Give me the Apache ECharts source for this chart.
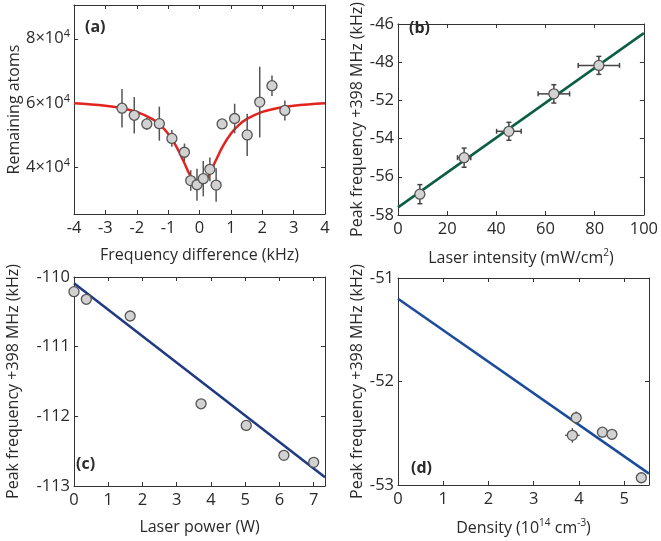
<!DOCTYPE html>
<html>
<head>
<meta charset="utf-8">
<script src="https://cdn.jsdelivr.net/npm/echarts@6/dist/echarts.min.js"></script>
<style>
html,body{margin:0;padding:0;background:#fff;}
#c{width:661px;height:541px;}
</style>
</head>
<body>
<div id="c"></div>
<script>
// ---------- Panel (a) ----------
const aX    = [-2.47,-2.08,-1.68,-1.28,-0.88,-0.48,-0.28,-0.08,0.12,0.33,0.53,0.72,1.12,1.52,1.92,2.31,2.72];
const aY    = [58400,56200,53500,53600,49000,44700,35900,34600,36500,39400,34500,53500,55200,50100,60300,65400,57700];
const aYErr = [6000,5700,1900,5300,2600,2700,3200,5000,5500,3700,5200,1300,4600,6600,11000,3200,3100];
const aFitX = [-4,-3,-2.5,-2,-1.5,-1.25,-1,-0.75,-0.5,-0.25,0,0.25,0.5,0.75,1,1.25,1.5,2,2.5,3,4];
const aFitY = [59950,59190,58470,57250,54990,53130,50470,46680,41740,36710,34400,36710,41740,46680,50470,53130,54990,57250,58470,59190,59950];
const aXTicks = [-4,-3,-2,-1,0,1,2,3,4];
const aYTicks = [40000,60000,80000];

// ---------- Panel (b) ----------
const bX    = [8.9,26.9,45.1,63.4,81.7];
const bY    = [-56.91,-55.0,-53.62,-51.66,-50.17];
const bXErr = [1.0,2.7,5.0,6.4,8.4];
const bYErr = [0.5,0.5,0.47,0.48,0.47];
const bFitX = [0,100];
const bFitY = [-57.6,-48.48];
const bXTicks = [0,20,40,60,80,100];
const bYTicks = [-58,-56,-54,-52,-50,-48];
const bYTickLabels = ['-58','-56','-54','-52','-48','-46'];

// ---------- Panel (c) ----------
const cX    = [0,0.36,1.64,3.71,5.03,6.13,7.0];
const cY    = [-110.21,-110.32,-110.56,-111.82,-112.13,-112.56,-112.66];
const cYErr = [0.04,0.04,0.04,0.04,0.03,0.03,0.04];
const cFitX = [0,7.33];
const cFitY = [-110.09,-112.875];
const cXTicks = [0,1,2,3,4,5,6,7];
const cYTicks = [-113,-112,-111,-110];

// ---------- Panel (d) ----------
const dX    = [3.855,3.94,4.52,4.73,5.38];
const dY    = [-52.52,-52.35,-52.49,-52.51,-52.93];
const dXErr = [0.16,0.1,0.1,0.1,0.06];
const dYErr = [0.07,0.06,0.05,0.05,0.03];
const dFitX = [0,5.55];
const dFitY = [-51.2,-52.89];
const dXTicks = [0,1,2,3,4,5];
const dYTicks = [-53,-52,-51];

const FONT = 'Open Sans';
const AX = '#333';
const TXT = '#2a2a2a';
const TICKFS = 16.5;
const NAMEFS = 16;

const grids = [
  {left:74, top:5, width:251, height:209},
  {left:398, top:7, width:251, height:208},
  {left:74, top:277, width:251, height:209},
  {left:398, top:278, width:251, height:207}
];

function xAxes(gi, min, max, ticks, name, nameRich) {
  const base = {
    gridIndex: gi, type: 'value', min: min, max: max,
    splitLine: {show:false},
    axisLine: {show:true, onZero:false, lineStyle:{color:AX, width:1}},
  };
  return [
    Object.assign({}, base, {
      position:'bottom',
      axisTick: {show:true, inside:true, length:4, lineStyle:{color:AX}, customValues: ticks},
      axisLabel: {show:true, customValues: ticks, color:TXT, fontFamily:FONT, fontSize:TICKFS, margin:6},
      name: name, nameLocation:'middle', nameGap: 33,
      nameTextStyle: {color:TXT, fontFamily:FONT, fontSize:NAMEFS, rich: nameRich}
    }),
    Object.assign({}, base, {
      position:'top',
      axisTick: {show:true, inside:true, length:4, lineStyle:{color:AX}, customValues: ticks},
      axisLabel: {show:false, customValues: ticks}
    })
  ];
}
function yAxes(gi, min, max, ticks, name, fmt, rich, nameGap) {
  const base = {
    gridIndex: gi, type: 'value', min: min, max: max,
    splitLine: {show:false},
    axisLine: {show:true, onZero:false, lineStyle:{color:AX, width:1}},
  };
  return [
    Object.assign({}, base, {
      position:'left',
      axisTick: {show:true, inside:true, length:4, lineStyle:{color:AX}, customValues: ticks},
      axisLabel: {show:true, customValues: ticks, color:TXT, fontFamily:FONT, fontSize:TICKFS, margin:4, formatter: fmt, rich: rich},
      name: name, nameLocation:'middle', nameGap: nameGap, nameRotate: 90,
      nameTextStyle: {color:TXT, fontFamily:FONT, fontSize:NAMEFS}
    }),
    Object.assign({}, base, {
      position:'right',
      axisTick: {show:true, inside:true, length:4, lineStyle:{color:AX}, customValues: ticks},
      axisLabel: {show:false, customValues: ticks}
    })
  ];
}

const supRich = {
  n: {fontFamily:FONT, fontSize:NAMEFS, color:TXT, lineHeight:20},
  s: {fontFamily:FONT, fontSize:10, color:TXT, verticalAlign:'top', lineHeight:10, padding:[0,0,8,0]}
};
const tickSupRich = {
  n: {fontFamily:FONT, fontSize:TICKFS, color:TXT, lineHeight:20},
  s: {fontFamily:FONT, fontSize:11, color:TXT, verticalAlign:'top', lineHeight:10, padding:[0,0,8,0]}
};

const xAxisList = [
  ...xAxes(0, -4, 4, aXTicks, 'Frequency difference (kHz)'),
  ...xAxes(1, 0, 100, bXTicks, '{n|Laser intensity (mW/cm}{s|2}{n|)}', supRich),
  ...xAxes(2, 0, 7.33, cXTicks, 'Laser power (W)'),
  ...xAxes(3, 0, 5.55, dXTicks, '{n|Density (10}{s|14}{n| cm}{s|-3}{n|)}', supRich)
];
const yAxisList = [
  ...yAxes(0, 25500, 90500, aYTicks, 'Remaining atoms',
      v => '{n|' + (v/10000) + '×10}{s|4}', tickSupRich, 52),
  ...yAxes(1, -58, -48, bYTicks, 'Peak frequency +398 MHz (kHz)',
      v => { const i = bYTicks.indexOf(v); return i >= 0 ? bYTickLabels[i] : ''; }, null, 33),
  ...yAxes(2, -113, -110, cYTicks, 'Peak frequency +398 MHz (kHz)', null, null, 53),
  ...yAxes(3, -53, -51, dYTicks, 'Peak frequency +398 MHz (kHz)', null, null, 33)
];

function errSeries(idx, xs, ys, xe, ye, color, cap) {
  const data = xs.map((x,i) => [x, ys[i], xe ? xe[i] : 0, ye ? ye[i] : 0]);
  return {
    type:'custom', xAxisIndex: idx*2, yAxisIndex: idx*2, z: 3, clip: false,
    data: data,
    renderItem: function(params, api) {
      const x = api.value(0), y = api.value(1), ex = api.value(2), ey = api.value(3);
      const children = [];
      const st = {stroke: color, lineWidth: 1.5};
      if (ey > 0) {
        const p1 = api.coord([x, y - ey]), p2 = api.coord([x, y + ey]);
        children.push({type:'line', shape:{x1:p1[0], y1:p1[1], x2:p2[0], y2:p2[1]}, style:st});
        if (cap) {
          children.push({type:'line', shape:{x1:p1[0]-2.5, y1:p1[1], x2:p1[0]+2.5, y2:p1[1]}, style:st});
          children.push({type:'line', shape:{x1:p2[0]-2.5, y1:p2[1], x2:p2[0]+2.5, y2:p2[1]}, style:st});
        }
      }
      if (ex > 0) {
        const p1 = api.coord([x - ex, y]), p2 = api.coord([x + ex, y]);
        children.push({type:'line', shape:{x1:p1[0], y1:p1[1], x2:p2[0], y2:p2[1]}, style:st});
        if (cap) {
          children.push({type:'line', shape:{x1:p1[0], y1:p1[1]-2.5, x2:p1[0], y2:p1[1]+2.5}, style:st});
          children.push({type:'line', shape:{x1:p2[0], y1:p2[1]-2.5, x2:p2[0], y2:p2[1]+2.5}, style:st});
        }
      }
      return {type:'group', children: children};
    }
  };
}
function pts(idx, xs, ys) {
  return {
    type:'scatter', xAxisIndex: idx*2, yAxisIndex: idx*2, z: 4,
    data: xs.map((x,i) => [x, ys[i]]),
    symbol:'circle', symbolSize: 10,
    itemStyle: {color:'#d2d2d2', borderColor:'#555', borderWidth:1.3, opacity:1},
    emphasis: {disabled:true}
  };
}
function fit(idx, xs, ys, color, smooth) {
  return {
    type:'line', xAxisIndex: idx*2, yAxisIndex: idx*2, z: 2,
    data: xs.map((x,i) => [x, ys[i]]),
    showSymbol:false, smooth: smooth ? 0.4 : false,
    lineStyle: {color: color, width: 2.5},
    emphasis: {disabled:true}
  };
}

const LBL = 'bold 16px "Open Sans"';
const option = {
  animation: false,
  textStyle: {fontFamily: FONT},
  grid: grids.map(g => Object.assign({show:false, containLabel:false}, g)),
  xAxis: xAxisList,
  yAxis: yAxisList,
  graphic: [
    {type:'text', left:85, top:19, style:{text:'(a)', font:LBL, fill:TXT}},
    {type:'text', left:409, top:20, style:{text:'(b)', font:LBL, fill:TXT}},
    {type:'text', left:76, top:456, style:{text:'(c)', font:LBL, fill:TXT}},
    {type:'text', left:411, top:460, style:{text:'(d)', font:LBL, fill:TXT}}
  ],
  series: [
    fit(0, aFitX, aFitY, '#e3231d', true),
    errSeries(0, aX, aY, null, aYErr, '#555', false),
    pts(0, aX, aY),
    fit(1, bFitX, bFitY, '#0b5e45', false),
    errSeries(1, bX, bY, bXErr, bYErr, '#444', true),
    pts(1, bX, bY),
    fit(2, cFitX, cFitY, '#1f3a82', false),
    errSeries(2, cX, cY, null, cYErr, '#555', false),
    pts(2, cX, cY),
    fit(3, dFitX, dFitY, '#1a4c9c', false),
    errSeries(3, dX, dY, dXErr, dYErr, '#555', false),
    pts(3, dX, dY)
  ]
};
const chart = echarts.init(document.getElementById('c'), null, {renderer:'canvas'});
chart.setOption(option);
</script>
</body>
</html>
